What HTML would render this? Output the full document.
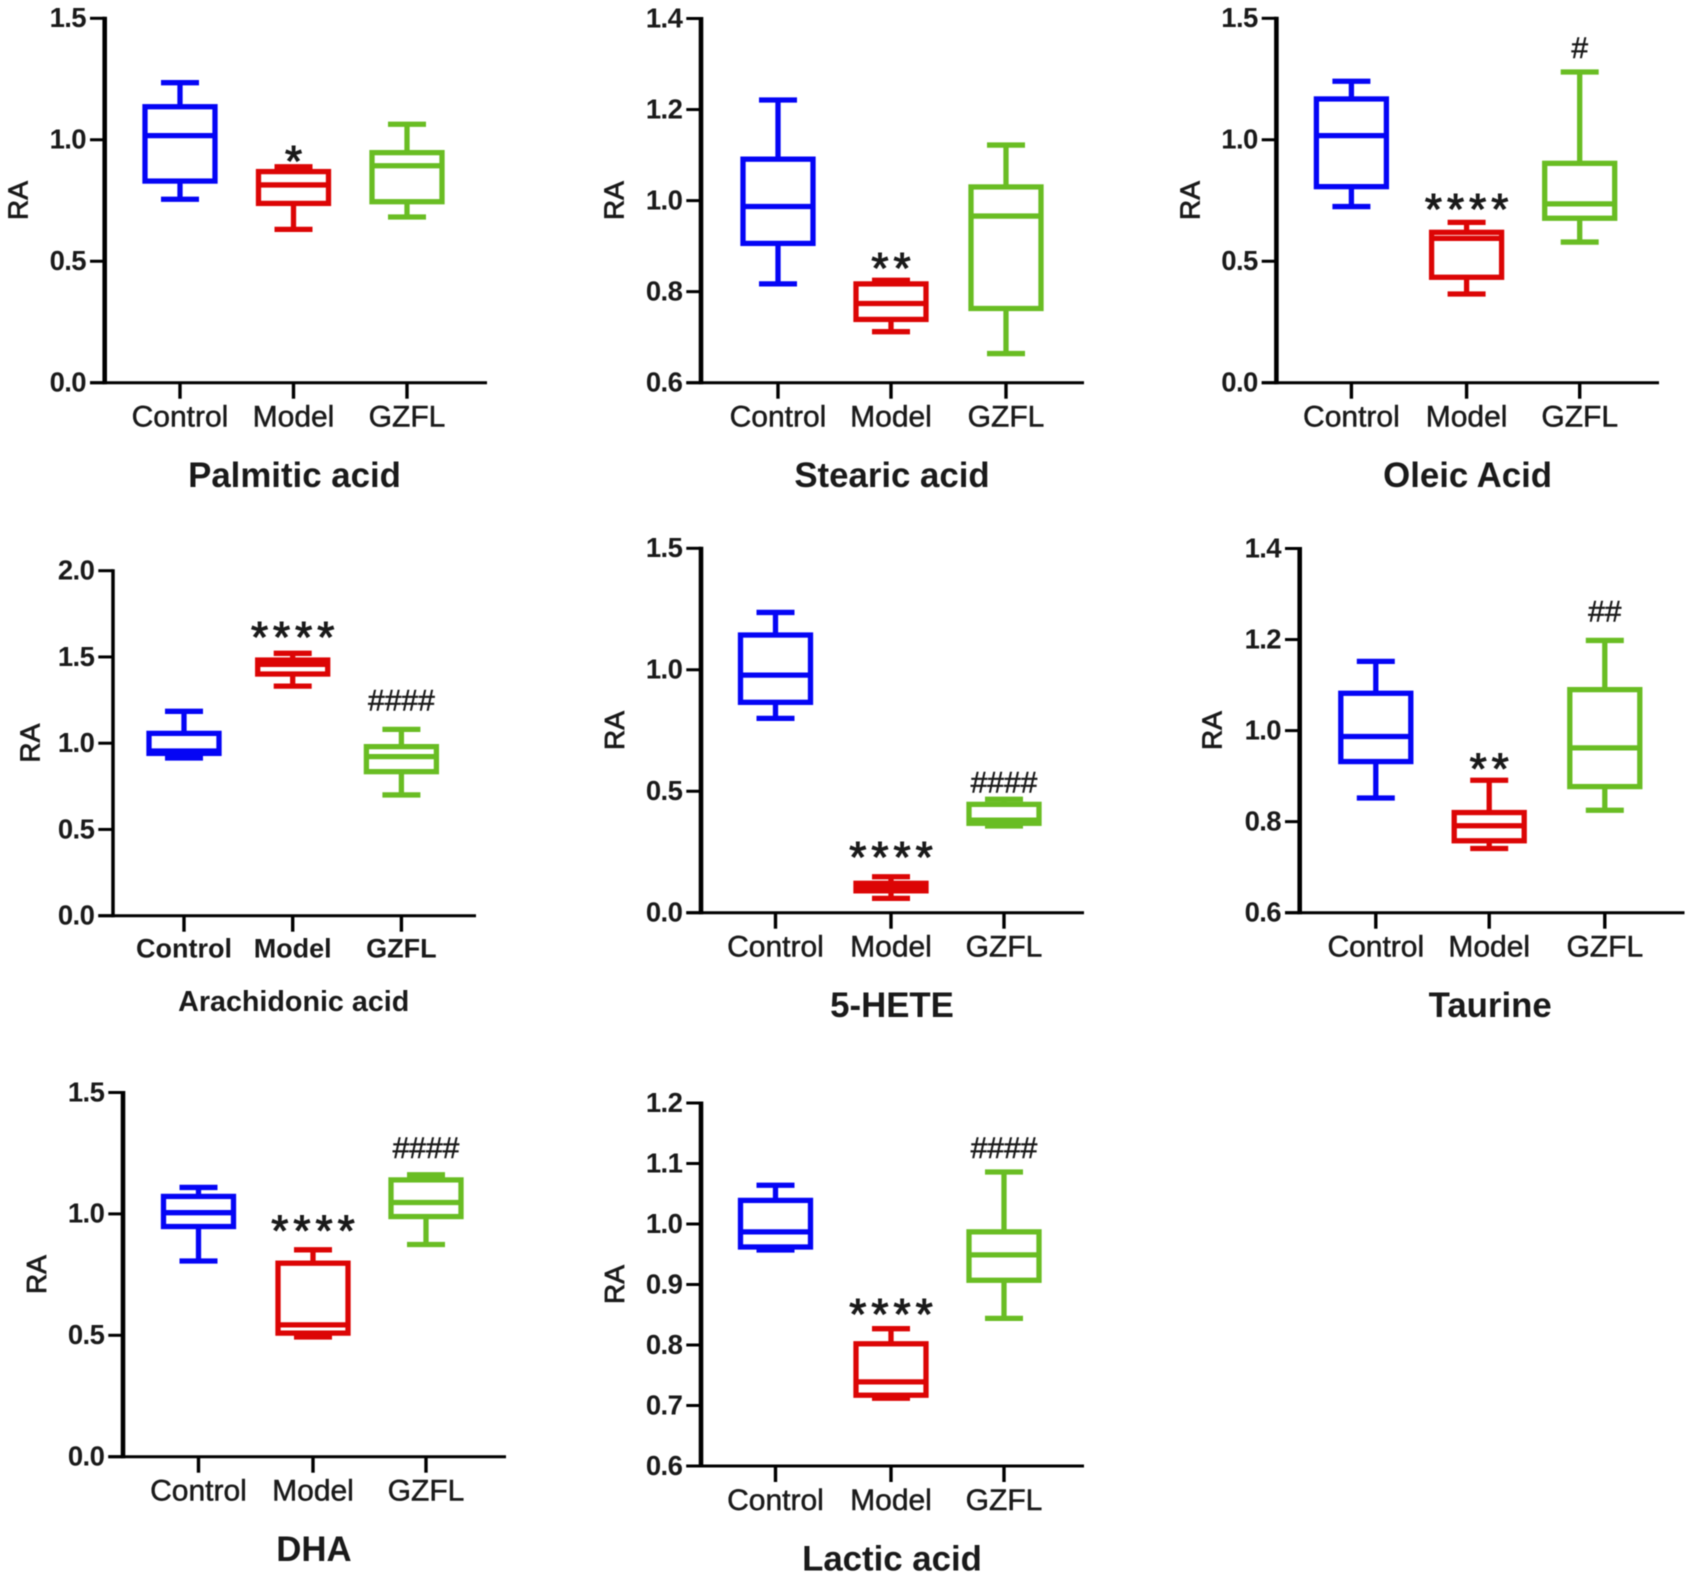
<!DOCTYPE html>
<html lang="en">
<head>
<meta charset="utf-8">
<title>Relative abundance box plots</title>
<style>
html,body{margin:0;padding:0;background:#fff;width:1693px;height:1578px;overflow:hidden}
svg{display:block;filter:blur(0.6px)}
text{font-family:"Liberation Sans",sans-serif;fill:#1a1a1a}
</style>
</head>
<body>
<svg id="figure" xmlns="http://www.w3.org/2000/svg" width="1693" height="1578" viewBox="0 0 1693 1578"></svg>
<script>
// Shared labels
const categories = ["Control", "Model", "GZFL"];
const groupColors = ["#0505f5", "#dc0505", "#69bd23"];
const ticksWide = ["0.0", "0.5", "1.0", "1.5"];
const ticksArachidonic = ["0.0", "0.5", "1.0", "1.5", "2.0"];
const ticksNarrow = ["0.6", "0.8", "1.0", "1.2", "1.4"];
const ticksLactic = ["0.6", "0.7", "0.8", "0.9", "1.0", "1.1", "1.2"];

// Each series: [whisker low, Q1, median, Q3, whisker high]
const palmiticControl = [0.755, 0.83, 1.017, 1.136, 1.235];
const palmiticModel = [0.631, 0.738, 0.814, 0.869, 0.889];
const palmiticGzfl = [0.682, 0.745, 0.893, 0.947, 1.064];

const stearicControl = [0.817, 0.906, 0.987, 1.091, 1.221];
const stearicModel = [0.712, 0.739, 0.774, 0.817, 0.825];
const stearicGzfl = [0.664, 0.763, 0.966, 1.03, 1.122];

const oleicControl = [0.725, 0.807, 1.017, 1.168, 1.241];
const oleicModel = [0.365, 0.434, 0.594, 0.619, 0.66];
const oleicGzfl = [0.579, 0.677, 0.736, 0.903, 1.279];

const arachidonicControl = [0.914, 0.941, 0.955, 1.057, 1.185];
const arachidonicModel = [1.331, 1.401, 1.457, 1.482, 1.521];
const arachidonicGzfl = [0.70, 0.835, 0.922, 0.98, 1.08];

const heteControl = [0.80, 0.866, 0.978, 1.143, 1.236];
const heteModel = [0.059, 0.09, 0.107, 0.121, 0.148];
const heteGzfl = [0.357, 0.368, 0.381, 0.446, 0.467];

const taurineControl = [0.852, 0.932, 0.987, 1.082, 1.152];
const taurineModel = [0.741, 0.758, 0.791, 0.82, 0.891];
const taurineGzfl = [0.825, 0.877, 0.962, 1.09, 1.198];

const dhaControl = [0.806, 0.948, 1.005, 1.072, 1.109];
const dhaModel = [0.493, 0.509, 0.543, 0.797, 0.852];
const dhaGzfl = [0.874, 0.989, 1.047, 1.14, 1.161];

const lacticControl = [0.957, 0.962, 0.987, 1.039, 1.064];
const lacticModel = [0.712, 0.717, 0.739, 0.802, 0.827];
const lacticGzfl = [0.844, 0.907, 0.949, 0.987, 1.086];

// Significance labels per group
const sigPalmitic = ["", "*", ""];
const sigStearic = ["", "**", ""];
const sigOleic = ["", "****", "#"];
const sigArachidonic = ["", "****", "####"];
const sigHete = ["", "****", "####"];
const sigTaurine = ["", "**", "##"];
const sigDha = ["", "****", "####"];
const sigLactic = ["", "****", "####"];

const panels = [
  {slug:"palmitic-acid", title:"Palmitic acid", series:[palmiticControl,palmiticModel,palmiticGzfl], sig:sigPalmitic, ticks:ticksWide, axisX:104.7, right:487, y0:382.7, top:18.3, xs:[180,293.5,407], starGap:13, hashGap:14, raGap:87},
  {slug:"stearic-acid", title:"Stearic acid", series:[stearicControl,stearicModel,stearicGzfl], sig:sigStearic, ticks:ticksNarrow, axisX:701, right:1084, y0:382.7, top:18.5, xs:[778,891,1006], starGap:20, hashGap:14, raGap:87.5},
  {slug:"oleic-acid", title:"Oleic Acid", series:[oleicControl,oleicModel,oleicGzfl], sig:sigOleic, ticks:ticksWide, axisX:1276.4, right:1659, y0:382.7, top:18.3, xs:[1351.4,1466.6,1579.7], starGap:21, hashGap:14, raGap:87},
  {slug:"arachidonic-acid", title:"Arachidonic acid", series:[arachidonicControl,arachidonicModel,arachidonicGzfl], sig:sigArachidonic, ticks:ticksArachidonic, axisX:113, right:476, y0:915.7, top:570.7, xs:[184,292.7,401.4], starGap:24, hashGap:19, raGap:83.4, small:true},
  {slug:"5-hete", title:"5-HETE", series:[heteControl,heteModel,heteGzfl], sig:sigHete, ticks:ticksWide, axisX:701, right:1084, y0:912.7, top:548.3, xs:[775.5,891,1004], starGap:27, hashGap:7, raGap:87},
  {slug:"taurine", title:"Taurine", series:[taurineControl,taurineModel,taurineGzfl], sig:sigTaurine, ticks:ticksNarrow, axisX:1299.7, right:1684.5, y0:912.7, top:548.5, xs:[1375.8,1489.2,1604.8], starGap:19, hashGap:19, raGap:88},
  {slug:"dha", title:"DHA", series:[dhaControl,dhaModel,dhaGzfl], sig:sigDha, ticks:ticksWide, axisX:123, right:506, y0:1456.7, top:1092.5, xs:[198.5,313,426], starGap:27, hashGap:17, raGap:87},
  {slug:"lactic-acid", title:"Lactic acid", series:[lacticControl,lacticModel,lacticGzfl], sig:sigLactic, ticks:ticksLactic, axisX:701, right:1084, y0:1466, top:1103, xs:[775.5,891,1004], starGap:22, hashGap:14, raGap:87}
];

const NS = "http://www.w3.org/2000/svg";
const figure = document.getElementById("figure");

function make(parent, tag, attrs, content) {
  const node = document.createElementNS(NS, tag);
  Object.keys(attrs).forEach(function (k) { node.setAttribute(k, attrs[k]); });
  if (content !== undefined) node.textContent = content;
  parent.appendChild(node);
  return node;
}

function drawBox(g, cx, stats, yScale, color) {
  const boxW = 70, capW = 38, sw = 5.3;
  const stemUp = make(g, "line", {x1:cx, x2:cx, y1:yScale(stats[3]), y2:yScale(stats[4]), stroke:color, "stroke-width":sw});
  
  
  const stemDown = make(g, "line", {x1:cx, x2:cx, y1:yScale(stats[1]), y2:yScale(stats[0]), stroke:color, "stroke-width":sw});
  
  
  const capHigh = make(g, "line", {x1:cx-capW/2, x2:cx+capW/2, y1:yScale(stats[4]), y2:yScale(stats[4]), stroke:color, "stroke-width":sw});
  
  
  const capLow = make(g, "line", {x1:cx-capW/2, x2:cx+capW/2, y1:yScale(stats[0]), y2:yScale(stats[0]), stroke:color, "stroke-width":sw});
  
  
  const rect = make(g, "rect", {x:cx-boxW/2, width:boxW, y:yScale(stats[3]), height:yScale(stats[1])-yScale(stats[3]), fill:"#fff", stroke:color, "stroke-width":sw});
  
  
  const median = make(g, "line", {x1:cx-boxW/2, x2:cx+boxW/2, y1:yScale(stats[2]), y2:yScale(stats[2]), stroke:color, "stroke-width":sw});
  
  
}

panels.forEach(function (p) {
  const tickVals = p.ticks.map(Number);
  const vMin = tickVals[0], vMax = tickVals[tickVals.length - 1];
  const yScale = function (v) { return p.y0 - (v - vMin) / (vMax - vMin) * (p.y0 - p.top); };
  const tickLeft = p.axisX - 14.7;

  const panel = make(figure, "g", {});
  
  

  const yAxis = make(panel, "line", {x1:p.axisX, x2:p.axisX, y1:p.top-1.5, y2:p.y0+1.5, stroke:"#000", "stroke-width":p.small?3.5:4.6});
  
  
  const xAxis = make(panel, "line", {x1:tickLeft, x2:p.right, y1:p.y0, y2:p.y0, stroke:"#000", "stroke-width":3});
  
  

  p.ticks.forEach(function (label, i) {
    const y = yScale(tickVals[i]);
    const tick = make(panel, "line", {x1:tickLeft, x2:p.axisX, y1:y, y2:y, stroke:"#000", "stroke-width":3});
    
    
    const text = make(panel, "text", {x:tickLeft-4, y:y+8.8, "text-anchor":"end", "font-size":27.5, "font-weight":"bold", "letter-spacing":-0.6}, label);
    
    
  });

  const ra = make(panel, "text", {transform:"translate(" + (p.axisX-p.raGap+10) + "," + ((p.y0+p.top)/2) + ") rotate(-90)", "text-anchor":"middle", "font-size":28, stroke:"#1a1a1a", "stroke-width":0.8}, "RA");
  
  

  categories.forEach(function (cat, i) {
    const cx = p.xs[i];
    const tick = make(panel, "line", {x1:cx, x2:cx, y1:p.y0, y2:p.y0+16, stroke:"#000", "stroke-width":3.4});
    
    
    const label = make(panel, "text", {x:cx, y:p.y0+(p.small?42:44), "text-anchor":"middle", "font-size":p.small?27:30, "font-weight":p.small?"bold":"normal", stroke:p.small?"none":"#1a1a1a", "stroke-width":0.5}, cat);
    
    

    const box = make(panel, "g", {});
    
    
    drawBox(box, cx, p.series[i], yScale, groupColors[i]);

    const mark = p.sig[i];
    if (mark) {
      const whiskerTop = yScale(p.series[i][4]);
      const isStar = mark.charAt(0) === "*";
      const sig = make(panel, "text", isStar
        ? {x:cx+2.5, y:whiskerTop-p.starGap+22.5, "text-anchor":"middle", "font-size":44, "letter-spacing":5, stroke:"#1a1a1a", "stroke-width":1.1}
        : {x:cx, y:whiskerTop-p.hashGap, "text-anchor":"middle", "font-size":30, stroke:"#1a1a1a", "stroke-width":0.5}, mark);
      
      
    }
  });

  const title = make(panel, "text", {x:p.xs[1]+1, y:p.small?1011:p.y0+104.3, "text-anchor":"middle", "font-size":p.small?28.7:34.8, "font-weight":"bold"}, p.title);
  
  
});
</script>
</body>
</html>
